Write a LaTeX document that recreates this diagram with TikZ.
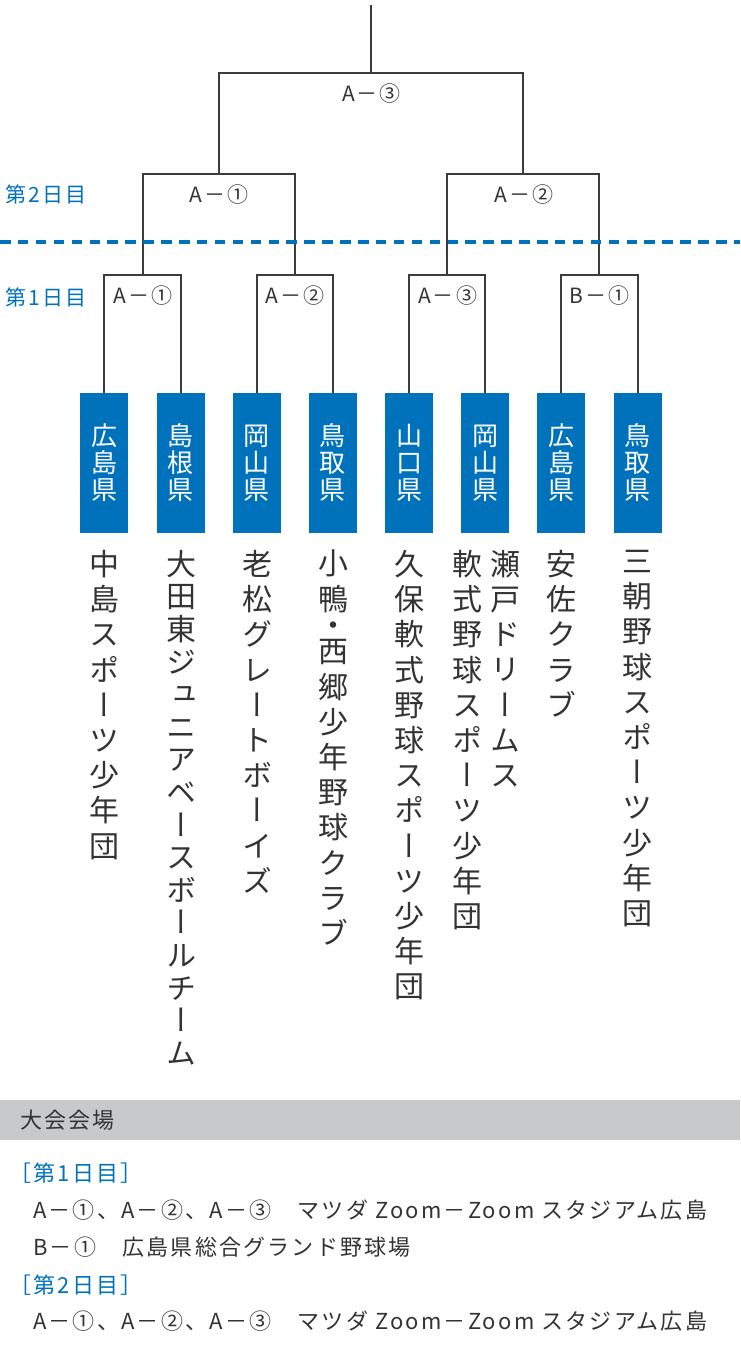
\documentclass[tikz,border=0pt]{standalone}
\usepackage{fontspec}
\setmainfont{Noto Sans CJK JP}
\newfontfamily\jpv[RawFeature=+vert]{Noto Sans CJK JP}
\newfontfamily\jpls[LetterSpace=10]{Noto Sans CJK JP}
\definecolor{lineg}{HTML}{3C3C3C}
\definecolor{bblue}{HTML}{0072BC}
\definecolor{barg}{HTML}{C8C9CA}
\definecolor{ink}{HTML}{333333}
\tikzset{
  br/.style={draw=lineg, line width=2pt},
  lbl/.style={text=ink, font=\jpls\fontsize{21}{21}\selectfont, inner sep=0},
  pref/.style={fill=bblue, minimum width=48pt, minimum height=140pt, inner sep=0, text=white, align=center, font=\fontsize{26}{27}\selectfont},
  tname/.style={text=ink, anchor=north, align=center, inner sep=0},
  day/.style={text=bblue, font=\jpls\fontsize{21}{21}\selectfont, anchor=west, inner sep=0},
  venue/.style={text=ink, font=\jpls\fontsize{22}{22}\selectfont, anchor=west, inner sep=0},
}
\newcommand{\vcolumn}[5]{\node[tname, font=\jpv\fontsize{30}{#4}\selectfont] (#1) at (#2,#3) {#5};}
\begin{document}
\begin{tikzpicture}[x=1pt,y=-1pt]
\useasboundingbox (0,0) rectangle (740,1350);

% prefecture boxes
\node[pref] (b1) at (104.4,463) {広\\島\\県};
\node[pref] (b2) at (180.6,463) {島\\根\\県};
\node[pref] (b3) at (256.7,463) {岡\\山\\県};
\node[pref] (b4) at (332.9,463) {鳥\\取\\県};
\node[pref] (b5) at (409.0,463) {山\\口\\県};
\node[pref] (b6) at (485.2,463) {岡\\山\\県};
\node[pref] (b7) at (561.3,463) {広\\島\\県};
\node[pref] (b8) at (637.5,463) {鳥\\取\\県};

% bracket junctions
\coordinate (m1) at (142.5,275);
\coordinate (m2) at (294.8,275);
\coordinate (m3) at (447.1,275);
\coordinate (m4) at (599.4,275);
\coordinate (n1) at (218.7,174);
\coordinate (n2) at (523.3,174);
\coordinate (t) at (371,73);
\coordinate (root) at (371,5);

\draw[br] (b1.north) |- (m1) -| (b2.north);
\draw[br] (b3.north) |- (m2) -| (b4.north);
\draw[br] (b5.north) |- (m3) -| (b6.north);
\draw[br] (b7.north) |- (m4) -| (b8.north);
\draw[br] (m1) |- (n1) -| (m2);
\draw[br] (m3) |- (n2) -| (m4);
\draw[br] (n1) |- (t) -| (n2);
\draw[br] (t) -- (root);

% match labels
\node[lbl] (l1) at (143,296) {A－①};
\node[lbl] (l2) at (295.3,296) {A－②};
\node[lbl] (l3) at (447.6,296) {A－③};
\node[lbl] (l4) at (599.9,296) {B－①};
\node[lbl] (l5) at (219,195) {A－①};
\node[lbl] (l6) at (523.8,195) {A－②};
\node[lbl] (l7) at (371.5,94) {A－③};

% day labels and divider
\node[day] (d2) at (5,194) {第2日目};
\node[day] (d1) at (5,297) {第1日目};
\coordinate (dl) at (0,242);
\coordinate (dr) at (740,242);
\draw[bblue, line width=4pt, dash pattern=on 10.5pt off 7.4pt] (dl) -- (dr);

% team names (vertical)
\vcolumn{c1}{104.4}{550}{35.2}{中\\島\\ス\\ポ\\ー\\ツ\\少\\年\\団}
\vcolumn{c2}{181}{550}{32.6}{大\\田\\東\\ジ\\ュ\\ニ\\ア\\ベ\\ー\\ス\\ボ\\ー\\ル\\チ\\ー\\ム}
\vcolumn{c3}{257}{550}{35.2}{老\\松\\グ\\レ\\ー\\ト\\ボ\\ー\\イ\\ズ}
\vcolumn{c4}{333}{550}{35.2}{小\\鴨\\[-8.8pt]・\\[-8.8pt]西\\郷\\少\\年\\野\\球\\ク\\ラ\\ブ}
\vcolumn{c5}{409}{550}{35.2}{久\\保\\軟\\式\\野\\球\\ス\\ポ\\ー\\ツ\\少\\年\\団}
\vcolumn{c6a}{505}{550}{35.2}{瀬\\戸\\ド\\リ\\ー\\ム\\ス}
\vcolumn{c6b}{467}{550}{35.2}{軟\\式\\野\\球\\ス\\ポ\\ー\\ツ\\少\\年\\団}
\vcolumn{c7}{561.5}{550}{35.2}{安\\佐\\ク\\ラ\\ブ}
\vcolumn{c8}{637.5}{550}{35.2}{三\\朝\\野\\球\\ス\\ポ\\ー\\ツ\\少\\年\\団}

% venue section
\node[fill=barg, minimum width=740pt, minimum height=40pt, inner sep=0, anchor=north west] (bar) at (0,1100) {};
\node[venue] (vt) at (20,1120) {大会会場};
\node[day, font=\jpls\fontsize{22}{22}\selectfont] (v1h) at (9,1173) {［第1日目］};
\node[venue] (v1a) at (33,1210) {A－①、A－②、A－③　マツダ Zoom－Zoom スタジアム広島};
\node[venue] (v1b) at (33,1247) {B－①　広島県総合グランド野球場};
\node[day, font=\jpls\fontsize{22}{22}\selectfont] (v2h) at (9,1285) {［第2日目］};
\node[venue] (v2a) at (33,1321) {A－①、A－②、A－③　マツダ Zoom－Zoom スタジアム広島};
\end{tikzpicture}
\end{document}
